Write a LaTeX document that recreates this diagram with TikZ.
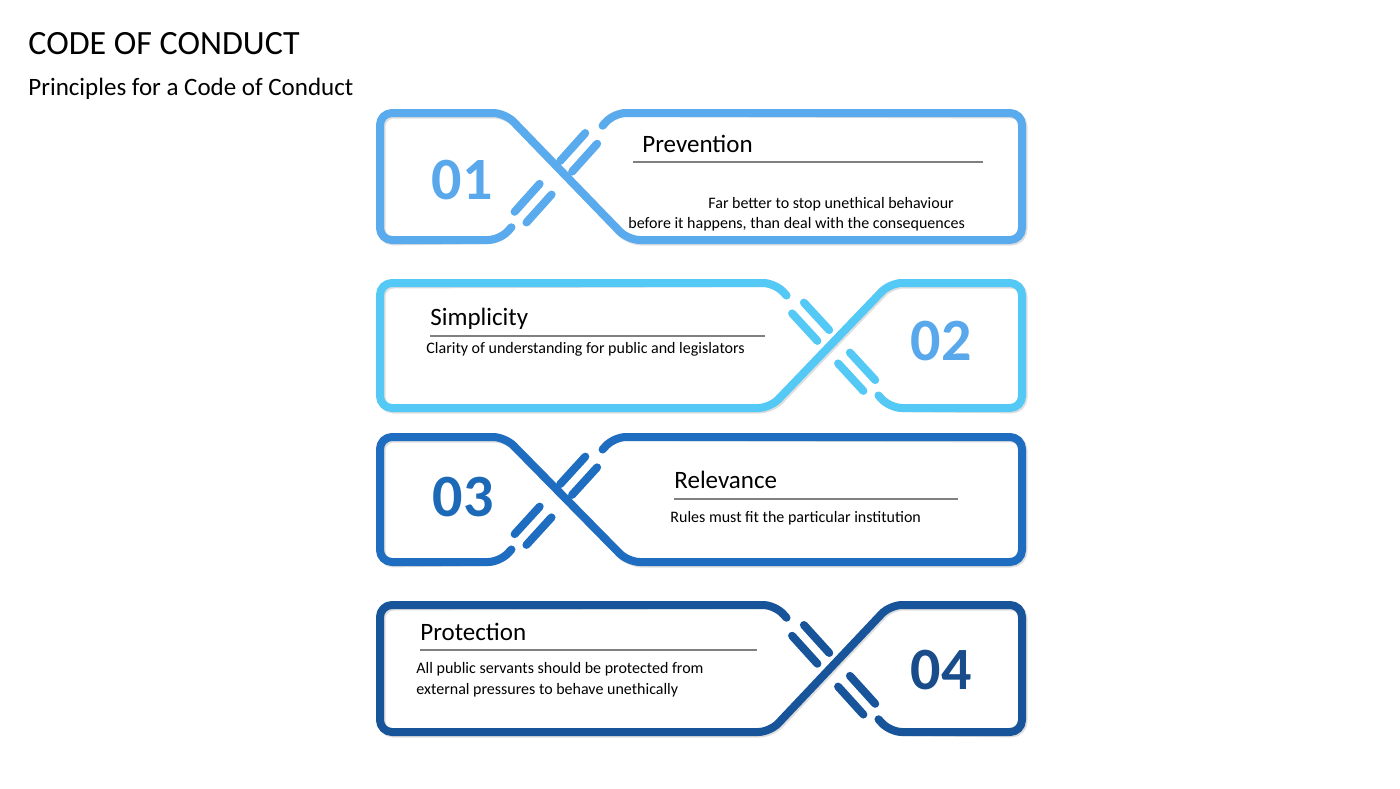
\documentclass[tikz,border=0pt]{standalone}
\usepackage{fontspec}
\setmainfont{Carlito}
\usetikzlibrary{calc}
\definecolor{cA}{HTML}{5AAAEE}
\definecolor{cB}{HTML}{55C9F5}
\definecolor{cC}{HTML}{1E6DC0}
\definecolor{cD}{HTML}{17549A}
\definecolor{nA}{HTML}{5AA8EC}
\definecolor{nC}{HTML}{1C69B8}
\definecolor{nD}{HTML}{184C8A}
\tikzset{
  band/.style={line width=4pt,rounded corners=6pt,line join=round,line cap=round},
  stroke/.style={line width=4pt,line cap=round},
  shadowband/.style={band,draw=black!25,opacity=0.5,shift={(1.5,1.5)}},
  rule/.style={draw=black!50,line width=0.6pt},
  head/.style={anchor=base west,font=\fontsize{12.5}{14}\selectfont,inner sep=0},
  body/.style={anchor=base west,font=\fontsize{8}{10}\selectfont,inner sep=0},
  num/.style={font=\fontsize{30}{32}\selectfont\bfseries},
}
\newcommand\strokes[2]{%
  \foreach \a/\b in {0.2/0.42,0.6/0.82}{
    \draw[stroke,draw=#1] ($($(#2P)!\a!(#2Q)$)!4pt!90:(#2Q)$) -- ($($(#2P)!\b!(#2Q)$)!4pt!-90:(#2P)$);
    \draw[stroke,draw=#1] ($($(#2P)!\a!(#2Q)$)!4pt!-90:(#2Q)$) -- ($($(#2P)!\b!(#2Q)$)!4pt!90:(#2P)$);}%
}
% panel with X on the left
\newcommand\pathL[3]{($(#3P)!0.1!(#3Q)$) -- (#3P) -- (1022,#1) -- (1022,#2) -- (628,#2) -- (505,#1) -- (380,#1) -- (380,#2) -- (#3Q) -- ($(#3Q)!0.1!(#3P)$)}
\newcommand\panelL[4]{%
  \coordinate (#4P) at (614,#2); \coordinate (#4Q) at (500,#3);
  \draw[shadowband] \pathL{#2}{#3}{#4};
  \draw[band,draw=#1] \pathL{#2}{#3}{#4};
  \strokes{#1}{#4}%
}
% panel with X on the right
\newcommand\pathR[3]{($(#3P)!0.1!(#3Q)$) -- (#3P) -- (380,#1) -- (380,#2) -- (770,#2) -- (890,#1) -- (1022,#1) -- (1022,#2) -- (#3Q) -- ($(#3Q)!0.1!(#3P)$)}
\newcommand\panelR[4]{%
  \coordinate (#4P) at (775,#2); \coordinate (#4Q) at (890,#3);
  \draw[shadowband] \pathR{#2}{#3}{#4};
  \draw[band,draw=#1] \pathR{#2}{#3}{#4};
  \strokes{#1}{#4}%
}
\begin{document}
\begin{tikzpicture}[x=0.5pt,y=-0.5pt]
\useasboundingbox[fill=white] (0,0) rectangle (1400,788);
\node[anchor=base west,inner sep=0,font=\fontsize{17}{20}\selectfont] (title) at (28,54) {CODE OF CONDUCT};
\node[anchor=base west,inner sep=0,font=\fontsize{12.5}{15}\selectfont] (sub) at (28,95) {Principles for a Code of Conduct};

\panelL{cA}{113}{240}{a}
\panelR{cB}{283}{408}{b}
\panelL{cC}{437}{562}{c}
\panelR{cD}{605}{732}{d}

\node[num,text=nA] (n1) at (462,180) {01};
\node[num,text=nA] (n2) at (941,341) {02};
\node[num,text=nC] (n3) at (463,497) {03};
\node[num,text=nD] (n4) at (941,670) {04};

\node[head] (h1) at (642,152) {Prevention};
\draw[rule] (633,162) -- (983,162);
\node[body] (b1a) at (708,208) {Far better to stop unethical behaviour};
\node[body] (b1b) at (628,228) {before it happens, than deal with the consequences};

\node[head] (h2) at (430,325) {Simplicity};
\draw[rule] (430,336) -- (765,336);
\node[body] (b2) at (426,353) {Clarity of understanding for public and legislators};

\node[head] (h3) at (674,488) {Relevance};
\draw[rule] (674,499) -- (958,499);
\node[body] (b3) at (670,522) {Rules must fit the particular institution};

\node[head] (h4) at (420,640) {Protection};
\draw[rule] (420,650) -- (757,650);
\node[body] (b4a) at (416,673) {All public servants should be protected from};
\node[body] (b4b) at (416,694) {external pressures to behave unethically};
\end{tikzpicture}
\end{document}
